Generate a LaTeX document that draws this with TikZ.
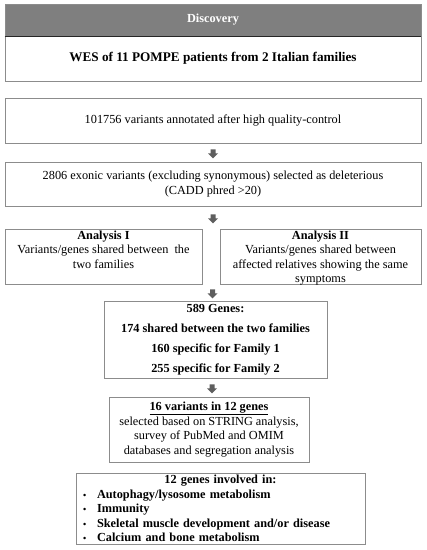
\documentclass[tikz,border=0pt]{standalone}
\usepackage{fontspec}
\setmainfont{Liberation Serif}
\usepackage{tikz}
\usetikzlibrary{shapes.arrows, calc, positioning}
\definecolor{boxgray}{HTML}{8C8C8C}
\definecolor{headgray}{HTML}{7F7F7F}
\definecolor{arrowgray}{HTML}{5E5E5E}
\tikzset{
  stage/.style={draw=boxgray, line width=0.8pt, rectangle, align=center, inner sep=2pt,
    font=\fontsize{12.3}{15}\selectfont},
  stagetext/.style={align=center, inner sep=0pt, font=\fontsize{12.3}{14.5}\selectfont},
  downarrow/.style={single arrow, shape border rotate=270, fill=arrowgray, draw=none,
    minimum height=9pt, minimum width=10pt, inner sep=2.3pt, single arrow head extend=2.5pt}
}
\begin{document}
\begin{tikzpicture}[x=1pt, y=-1pt]
    \useasboundingbox (0,0) rectangle (427,550);
    % nodes
    \node (head) [stage, fill=headgray, text=white, minimum width=416pt, minimum height=32pt] at (213,20) {\textbf{Discovery}};
    \node (wes) [stage, font=\fontsize{13.2}{15}\selectfont, minimum width=416pt, minimum height=45pt] at (213,58.5) {\textbf{WES of 11 POMPE patients from 2 Italian families}};
    \node (counts) [stage, minimum width=416pt, minimum height=45pt] at (213,120.5) {101756 variants annotated after high quality-control};
    \node (exonic) [stage, minimum width=416pt, minimum height=44pt] at (213,184) {2806 exonic variants (excluding synonymous) selected as deleterious\\(CADD phred >20)};
    \node (anaone) [stage, minimum width=197pt, minimum height=55pt] at (103.5,256.5) {};
    \node (anatwo) [stage, minimum width=201pt, minimum height=55pt] at (320.5,256.5) {};
    \node (anaonetext) [stagetext, below=2pt of anaone.north] {\textbf{Analysis I}\\Variants/genes shared between~ the\\two families};
    \node (anatwotext) [stagetext, below=2pt of anatwo.north] {\textbf{Analysis II}\\Variants/genes shared between\\affected relatives showing the same\\symptoms};
    \node (genes) [stage, font=\fontsize{12.3}{20}\selectfont, minimum width=223pt, minimum height=77pt] at (215.5,339.5) {\textbf{589 Genes:}\\\textbf{174 shared between the two families}\\\textbf{160 specific for Family 1}\\\textbf{255 specific for Family 2}};
    \node (picked) [stage, font=\fontsize{12.3}{14.7}\selectfont, minimum width=200pt, minimum height=65pt] at (209,429.5) {\underline{\textbf{16 variants in 12 genes}}\\selected based on STRING analysis,\\survey of PubMed and OMIM\\databases and segregation analysis};
    \node (involved) [stage, font=\fontsize{12.3}{14.5}\selectfont, align=left, text width=275pt, inner xsep=7pt, minimum height=71pt] at (220.5,508.5) {\makebox[\linewidth][c]{\textbf{12 genes involved in:}}\\
      \textbf{\makebox[14pt][l]{\small\textbullet}Autophagy/lysosome metabolism}\\
      \textbf{\makebox[14pt][l]{\small\textbullet}Immunity}\\
      \textbf{\makebox[14pt][l]{\small\textbullet}Skeletal muscle development and/or disease}\\
      \textbf{\makebox[14pt][l]{\small\textbullet}Calcium and bone metabolism}};
    % header rule
    \draw [line width=1.3pt, black!85] (head.south west) -- (head.south east);
    % arrows
    \node (arrowone) [downarrow] at ($(counts.south)!0.5!(exonic.north)$) {};
    \node (arrowtwo) [downarrow] at ($(exonic.south)!0.5!(exonic.south |- anaone.north)$) {};
    \node (arrowthree) [downarrow, xshift=-3pt] at ($(genes.north)!0.5!(genes.north |- anaone.south)$) {};
    \node (arrowfour) [downarrow, xshift=3pt] at ($(picked.north)!0.5!(picked.north |- genes.south)$) {};
\end{tikzpicture}
\end{document}
